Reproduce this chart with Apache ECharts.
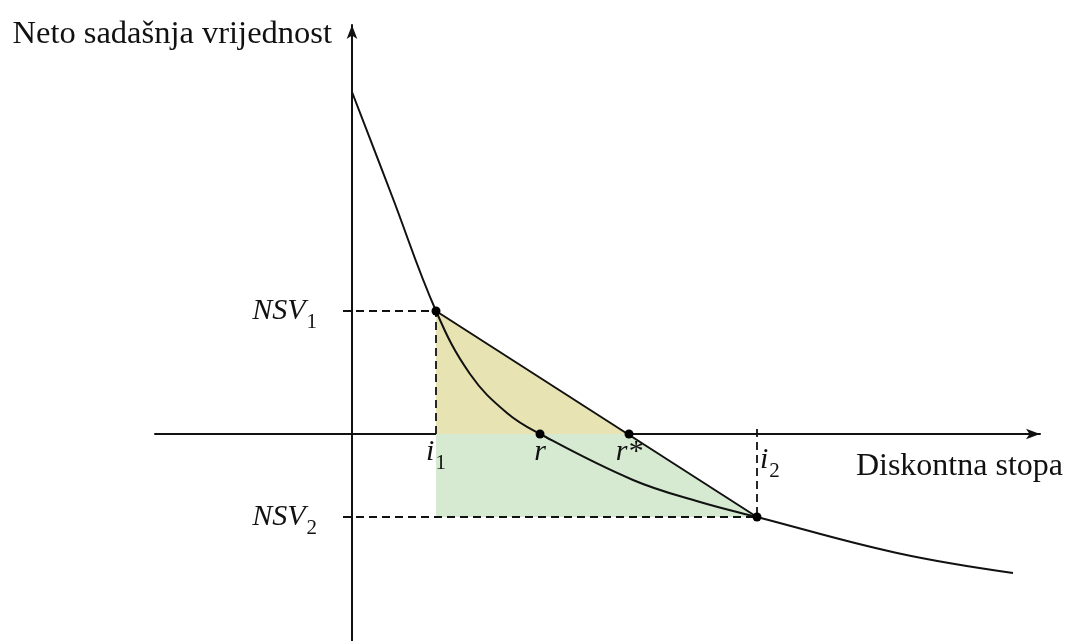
<!DOCTYPE html>
<html>
<head>
<meta charset="utf-8">
<script src="https://cdn.jsdelivr.net/npm/echarts@6/dist/echarts.min.js"></script>
<style>
  html, body { margin: 0; padding: 0; background: #fff; }
  #chart { width: 1067px; height: 641px; }
</style>
</head>
<body>
<div id="chart"></div>
<script>
// NSV profile, x = discount rate, y = net present value (origin at the axis crossing)
const curvePoints = [
  [0, 342], [40, 238], [84, 123],
  [118, 60], [155, 21], [188, 0],
  [281, -46], [348, -68], [405, -83],
  [545, -119], [661, -139]
];
// linear interpolation chord between (i1, NSV1) and (i2, NSV2)
const chordPoints = [[84, 123], [405, -83]];
const keyPoints = [[84, 123], [188, 0], [277, 0], [405, -83]];
// filled regions
const yellowArea = [[84, 123], [277, 0], [84, 0]];
const greenArea = [[84, 0], [277, 0], [405, -83], [84, -83]];
// dashed guide lines
const guideNsv1 = [[-9, 123], [84, 123], [84, 0]];
const guideNsv2 = [[-9, -83], [405, -83], [405, 9]];
// point labels: x, y, text key
const labelPoints = [
  [-9, 123, 'NSV|1'],
  [-9, -83, 'NSV|2'],
  [84, 0, 'i|1'],
  [188, 0, 'r|'],
  [277, 0, 'r*|'],
  [405, 0, 'i|2']
];

const serif = '"Liberation Serif", "DejaVu Serif", serif';
const ink = '#111';

function polygonSeries(points, color) {
  return {
    type: 'custom',
    data: points,
    encode: { x: 0, y: 1 },
    silent: true,
    z: 1,
    renderItem: (params, api) => {
      if (params.dataIndex !== 0) return null;
      return {
        type: 'polygon',
        shape: { points: points.map(p => api.coord(p)) },
        style: { fill: color }
      };
    }
  };
}

function guideSeries(points) {
  return {
    type: 'line',
    data: points,
    symbol: 'none',
    z: 3,
    lineStyle: { color: ink, width: 1.8, type: [8, 5] }
  };
}

const richStyles = {
  m: { fontFamily: serif, fontStyle: 'italic', fontSize: 30, color: ink, lineHeight: 44 },
  s: { fontFamily: serif, fontSize: 21, color: ink, verticalAlign: 'bottom', lineHeight: 22, padding: [0, 0, 0, 1] }
};

function labelFor(item) {
  const key = item[2];
  const base = { show: true, color: ink, rich: richStyles };
  if (key.startsWith('NSV')) return Object.assign(base, { position: 'left', distance: 26 });
  if (key === 'i|2') return Object.assign(base, { position: 'right', distance: 3, offset: [0, 26] });
  return Object.assign(base, { position: 'bottom', distance: -4 });
}

const option = {
  animation: false,
  grid: { left: 155, right: 27, top: 25, bottom: 0 },
  xAxis: {
    type: 'value',
    min: -197,
    max: 688,
    name: 'Diskontna stopa',
    nameLocation: 'end',
    nameGap: 23,
    nameTextStyle: {
      fontFamily: serif, fontSize: 32, color: ink,
      align: 'right', verticalAlign: 'top', padding: [17, 0, 0, 0]
    },
    axisLine: {
      onZero: true,
      symbol: ['none', 'arrow'],
      symbolSize: [8, 14],
      lineStyle: { color: ink, width: 2 }
    },
    axisTick: { show: false },
    axisLabel: { show: false },
    splitLine: { show: false }
  },
  yAxis: {
    type: 'value',
    min: -207,
    max: 409,
    name: 'Neto sadašnja vrijednost',
    nameLocation: 'end',
    nameGap: -9,
    nameTextStyle: {
      fontFamily: serif, fontSize: 32.5, color: ink,
      align: 'right', verticalAlign: 'middle', padding: [0, 20, 0, 0]
    },
    axisLine: {
      onZero: true,
      symbol: ['none', 'arrow'],
      symbolSize: [8, 14],
      lineStyle: { color: ink, width: 2 }
    },
    axisTick: { show: false },
    axisLabel: { show: false },
    splitLine: { show: false }
  },
  series: [
    polygonSeries(yellowArea, '#e8e3b2'),
    polygonSeries(greenArea, '#d6e9d1'),
    guideSeries(guideNsv1),
    guideSeries(guideNsv2),
    {
      type: 'line',
      data: chordPoints,
      symbol: 'none',
      z: 4,
      lineStyle: { color: ink, width: 2 }
    },
    {
      type: 'line',
      data: curvePoints,
      smooth: 0.4,
      symbol: 'none',
      z: 4,
      lineStyle: { color: ink, width: 2 }
    },
    {
      type: 'scatter',
      data: keyPoints,
      symbol: 'circle',
      symbolSize: 9,
      z: 5,
      itemStyle: { color: '#000', opacity: 1 }
    },
    {
      type: 'scatter',
      symbolSize: 0,
      z: 6,
      itemStyle: { opacity: 1 },
      data: labelPoints.map(p => ({
        value: [p[0], p[1]],
        name: p[2],
        label: labelFor(p)
      })),
      label: {
        formatter: params => {
          const parts = params.name.split('|');
          return '{m|' + parts[0] + '}' + (parts[1] ? '{s|' + parts[1] + '}' : '');
        }
      }
    }
  ]
};

echarts.init(document.getElementById('chart')).setOption(option);
</script>
</body>
</html>
